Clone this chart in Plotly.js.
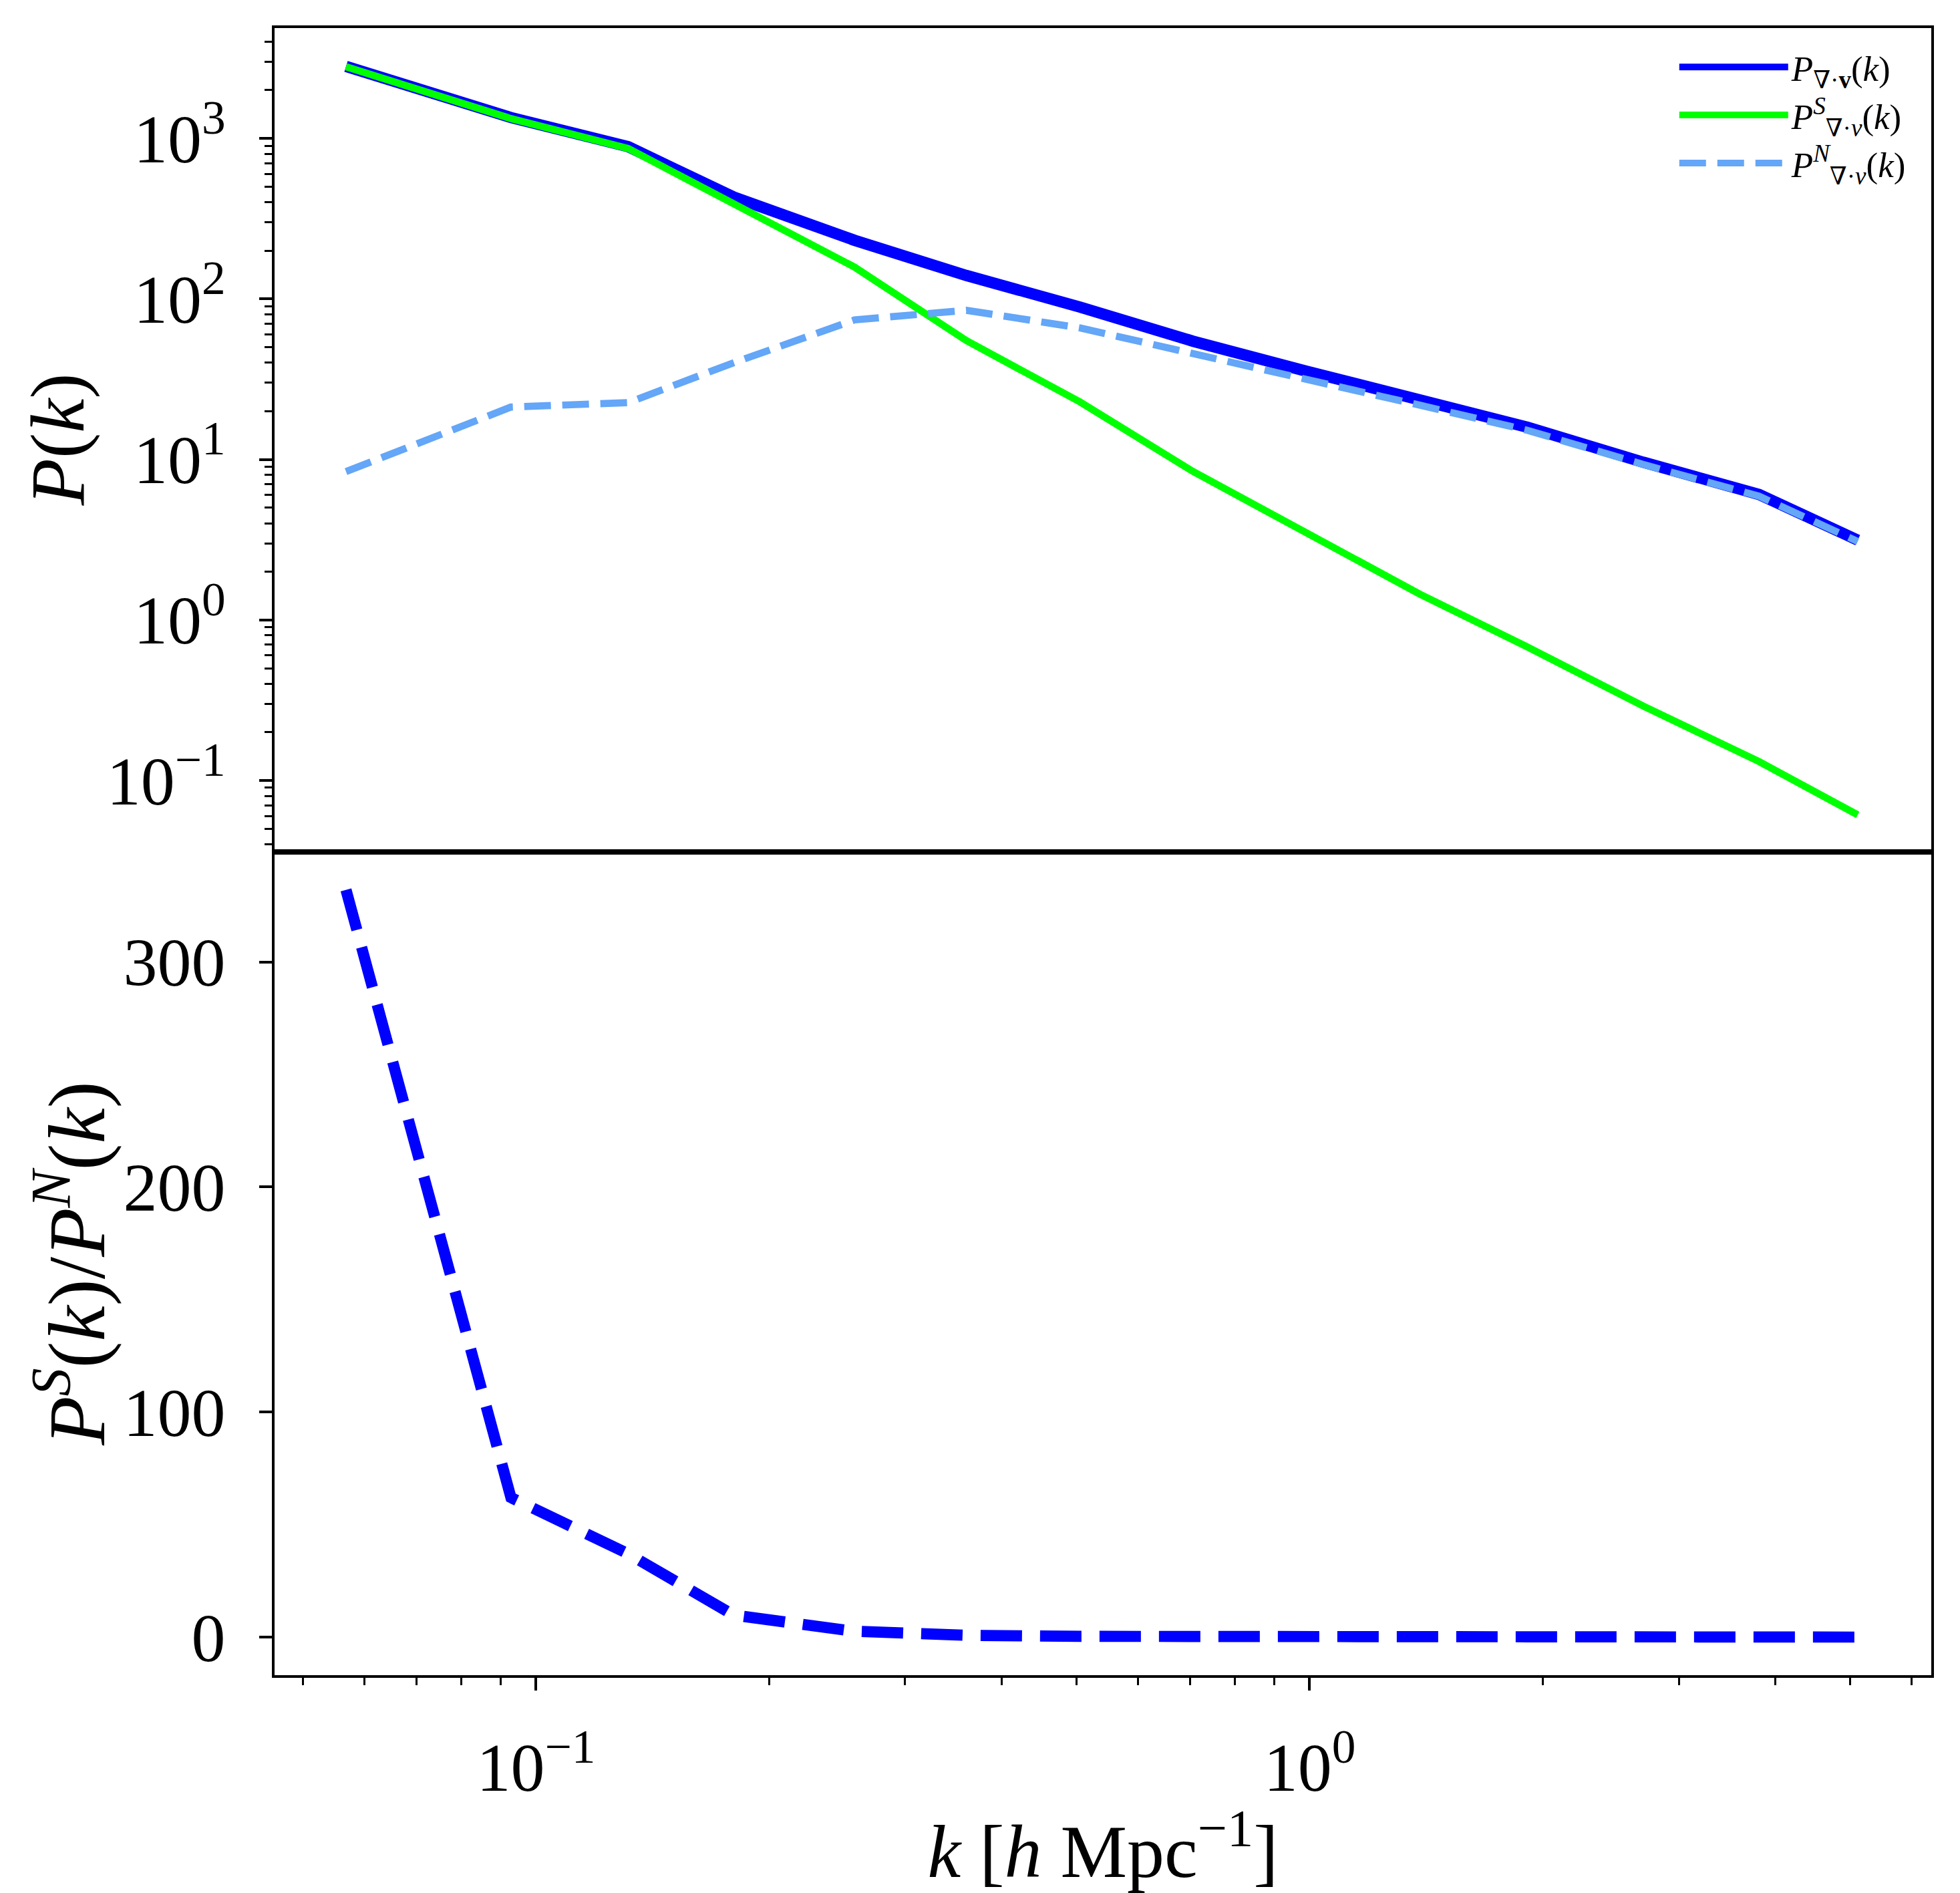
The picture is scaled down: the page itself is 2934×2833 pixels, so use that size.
<!DOCTYPE html>
<html>
<head>
<meta charset="utf-8">
<script src="https://cdn.plot.ly/plotly-3.0.1.min.js"></script>
<style>
  body { margin: 0; background: #fff; }
  #graph { width: 2934px; height: 2833px; }
</style>
</head>
<body>
<div id="graph"></div>
<script>
// k bins [h/Mpc]
var kVals = [0.0568, 0.0928, 0.1316, 0.180, 0.258, 0.360, 0.505, 0.707, 0.99, 1.387, 1.91, 2.70, 3.81, 5.11];
// power spectra
var totalP = [2810, 1350, 888, 432, 232, 140, 89, 54.5, 35.5, 23.2, 15.9, 9.6, 6.05, 3.14];
var signalP = [2800, 1330, 865, 392, 158, 55, 22.8, 8.4, 3.5, 1.45, 0.68, 0.29, 0.131, 0.061];
var noiseP = [8.4, 21.2, 22.6, 40, 74, 85, 66, 46, 32, 21.8, 15.2, 9.3, 5.9, 3.08];
// ratio P^S / P^N, bottom panel
var ratioSN = [332, 62, 37, 9.8, 2.6, 0.8, 0.35, 0.18, 0.11, 0.07, 0.045, 0.03, 0.022, 0.02];

var legendNames = [
  '<i>P</i><sub>\u2207\u00b7<b>v</b></sub>(<i>k</i>)',
  '<i>P</i><sup><i>S</i></sup><sub>\u2207\u00b7<i>v</i></sub>(<i>k</i>)',
  '<i>P</i><sup><i>N</i></sup><sub>\u2207\u00b7<i>v</i></sub>(<i>k</i>)'
];
var logTickVals = [0.1, 1, 10, 100, 1000];
var logTickText = ['10<sup>\u22121</sup>', '10<sup>0</sup>', '10<sup>1</sup>', '10<sup>2</sup>', '10<sup>3</sup>'];
var kTickVals = [0.1, 1];
var kTickText = ['10<sup>\u22121</sup>', '10<sup>0</sup>'];
var ratioTickVals = [0, 100, 200, 300];

var FONT = '"Liberation Serif", "DejaVu Serif", serif';

function minorTicks(fromExp, toExp) {
  var out = [];
  for (var e = fromExp; e <= toExp; e++) {
    for (var d = 2; d <= 9; d++) out.push(d * Math.pow(10, e));
  }
  return out;
}

function buildGraph() {
  var totalTrace = {
    x: kVals, y: totalP, name: legendNames[0],
    type: 'scatter', mode: 'lines', xaxis: 'x2', yaxis: 'y',
    line: { color: '#0000ff', width: 17 }
  };
  var signalTrace = {
    x: kVals, y: signalP, name: legendNames[1],
    type: 'scatter', mode: 'lines', xaxis: 'x2', yaxis: 'y',
    line: { color: '#00ff00', width: 10.7 }
  };
  var noiseTrace = {
    x: kVals, y: noiseP, name: legendNames[2],
    type: 'scatter', mode: 'lines', xaxis: 'x2', yaxis: 'y',
    line: { color: '#64a6f7', width: 10.7, dash: '40px,17px' }
  };
  var ratioTrace = {
    x: kVals, y: ratioSN, showlegend: false,
    type: 'scatter', mode: 'lines', xaxis: 'x', yaxis: 'y2',
    line: { color: '#0000ff', width: 16.7, dash: '62px,27px' }
  };

  var axisBase = {
    showline: true, linewidth: 4, linecolor: '#000', mirror: true,
    showgrid: false, zeroline: false,
    ticks: 'outside', ticklen: 19, tickwidth: 4, tickcolor: '#000',
    tickfont: { family: FONT, size: 102, color: '#000' }
  };

  var layout = {
    width: 2934, height: 2833,
    margin: { l: 411, r: 43, t: 42, b: 326 },
    paper_bgcolor: '#fff', plot_bgcolor: '#fff',
    font: { family: FONT, color: '#000' },
    showlegend: true,
    legend: {
      x: 0.987, xanchor: 'right', y: 0.993, yanchor: 'top',
      bgcolor: 'rgba(0,0,0,0)', borderwidth: 0,
      font: { family: FONT, size: 53, color: '#000' },
      itemwidth: 163, tracegroupgap: 0
    },
    xaxis: Object.assign({}, axisBase, {
      type: 'log', range: [-1.338, 0.8035], anchor: 'y2', domain: [0, 1],
      tickmode: 'array', tickvals: kTickVals, ticktext: kTickText,
      ticklabelstandoff: 28,
      minor: { tickmode: 'array', tickvals: minorTicks(-2, 0), ticks: 'outside', ticklen: 11, tickwidth: 3, tickcolor: '#000', showgrid: false },
      title: { text: '<i>k</i> [<i>h</i> Mpc<sup>\u22121</sup>]', font: { family: FONT, size: 112, color: '#000' }, standoff: 20 }
    }),
    xaxis2: Object.assign({}, axisBase, {
      type: 'log', range: [-1.338, 0.8035], anchor: 'y', matches: 'x',
      ticks: '', showticklabels: false
    }),
    yaxis: Object.assign({}, axisBase, {
      type: 'log', range: [-1.444, 3.688], anchor: 'x2', domain: [0.5, 1],
      tickmode: 'array', tickvals: logTickVals, ticktext: logTickText,
      ticklabelstandoff: 30,
      minor: { tickmode: 'array', tickvals: minorTicks(-2, 3), ticks: 'outside', ticklen: 11, tickwidth: 3, tickcolor: '#000', showgrid: false }
    }),
    yaxis2: Object.assign({}, axisBase, {
      range: [-16.9, 349], anchor: 'x', domain: [0, 0.5],
      tickmode: 'array', tickvals: ratioTickVals,
      ticklabelstandoff: 30
    }),
    // y titles as rotated annotations so they sit where the reference has them
    annotations: [
      {
        text: '<i>P</i>(<i>k</i>)', xref: 'paper', yref: 'paper',
        x: -0.131, y: 0.75, xanchor: 'center', yanchor: 'middle',
        textangle: -90, showarrow: false,
        font: { family: FONT, size: 115, color: '#000' }
      },
      {
        text: '<i>P</i><sup><i>S</i></sup>(<i>k</i>)/<i>P</i><sup><i>N</i></sup>(<i>k</i>)', xref: 'paper', yref: 'paper',
        x: -0.123, y: 0.25, xanchor: 'center', yanchor: 'middle',
        textangle: -90, showarrow: false,
        font: { family: FONT, size: 120, color: '#000' }
      }
    ]
  };

  var data = [totalTrace, signalTrace, noiseTrace, ratioTrace];
  Plotly.newPlot('graph', data, layout, { staticPlot: true, displayModeBar: false });
}

buildGraph();
</script>
</body>
</html>
